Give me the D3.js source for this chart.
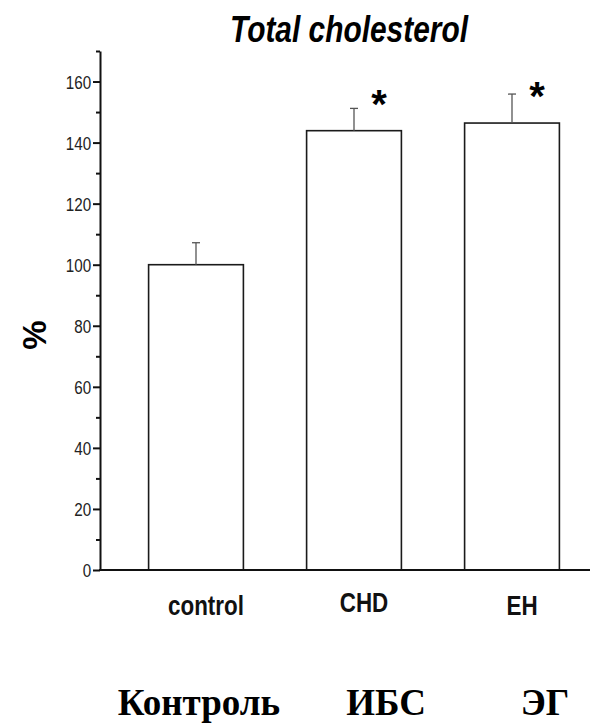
<!DOCTYPE html>
<html>
<head>
<meta charset="utf-8">
<script src="https://cdn.jsdelivr.net/npm/d3@7"></script>
<style>
  body { margin: 0; background: #fff; }
</style>
</head>
<body>
<script>
'use strict'
const categories = ["control", "CHD", "EH"];
const values = [100, 143.9, 146.4];
const errors = [7.2, 7.3, 9.5];
const significant = [false, true, true];
const yTicks = [0, 20, 40, 60, 80, 100, 120, 140, 160];
const yMinorTicks = [10, 30, 50, 70, 90, 110, 130, 150, 170];
const ruLabels = ["Контроль", "ИБС", "ЭГ"];

const width = 590;
const height = 723;

const svg = d3.select("body")
    .append("svg")
    .attr("width", width)
    .attr("height", height);

const x = d3.scaleBand()
    .domain(categories)
    .range([117, 591])
    .paddingInner(0.4)
    .paddingOuter(0.2);

const y = d3.scaleLinear()
    .domain([0, 170])
    .range([570, 51]);

// bars
svg.selectAll("rect.bar")
    .data(categories)
    .enter()
    .append("rect")
    .attr("class", "bar")
    .attr("x", d => x(d))
    .attr("y", (d, i) => y(values[i]))
    .attr("width", x.bandwidth())
    .attr("height", (d, i) => y(0) - y(values[i]))
    .attr("fill", "#fff")
    .attr("stroke", "#1a1a1a")
    .attr("stroke-width", 1.6);

// error bars (upper half only)
const err = svg.selectAll("g.err")
    .data(categories)
    .enter()
    .append("g")
    .attr("class", "err")
    .attr("stroke", "#555")
    .attr("stroke-width", 1.3);
err.append("line")
    .attr("x1", d => x(d) + x.bandwidth() / 2)
    .attr("x2", d => x(d) + x.bandwidth() / 2)
    .attr("y1", (d, i) => y(values[i]))
    .attr("y2", (d, i) => y(values[i] + errors[i]));
err.append("line")
    .attr("x1", d => x(d) + x.bandwidth() / 2 - 4)
    .attr("x2", d => x(d) + x.bandwidth() / 2 + 4)
    .attr("y1", (d, i) => y(values[i] + errors[i]))
    .attr("y2", (d, i) => y(values[i] + errors[i]));

// significance stars
svg.selectAll("text.star")
    .data(categories.filter((d, i) => significant[i]))
    .enter()
    .append("text")
    .attr("class", "star")
    .attr("x", d => x(d) + x.bandwidth() / 2 + 25)
    .attr("y", d => y(values[categories.indexOf(d)]) - 13)
    .attr("text-anchor", "middle")
    .style("font-family", "Liberation Sans, Arial, sans-serif")
    .style("font-weight", "bold")
    .style("font-size", "40px")
    .attr("fill", "#000")
    .text("*");

// y axis
const yAxis = svg.append("g")
    .attr("transform", "translate(100,0)")
    .call(d3.axisLeft(y).tickValues(yTicks).tickSize(7).tickSizeOuter(0).tickPadding(4));
yAxis.select(".domain").attr("stroke-width", 2).attr("stroke", "#111");
yAxis.selectAll(".tick line").attr("stroke-width", 2).attr("stroke", "#111");
yAxis.selectAll(".tick text")
    .style("font-family", "Liberation Sans, Arial, sans-serif")
    .style("font-size", "19px")
    .attr("fill", "#222")
    .attr("dy", "0.34em")
    .attr("transform", "scale(0.8,1)");

const yMinor = svg.append("g")
    .attr("transform", "translate(100,0)")
    .call(d3.axisLeft(y).tickValues(yMinorTicks).tickSize(4).tickFormat(""));
yMinor.select(".domain").remove();
yMinor.selectAll(".tick line").attr("stroke-width", 2).attr("stroke", "#111");

// x axis baseline
svg.append("line")
    .attr("x1", 99)
    .attr("x2", 590)
    .attr("y1", y(0))
    .attr("y2", y(0))
    .attr("stroke", "#111")
    .attr("stroke-width", 2);

// x category labels
svg.selectAll("text.xlab")
    .data(categories)
    .enter()
    .append("text")
    .attr("class", "xlab")
    .attr("transform", (d, i) => "translate(" + (x(d) + x.bandwidth() / 2 + 10) + "," + (i === 1 ? 612 : 615) + ") scale(0.8,1)")
    .attr("text-anchor", "middle")
    .style("font-family", "Liberation Sans, Arial, sans-serif")
    .style("font-weight", "bold")
    .style("font-size", "28px")
    .attr("fill", "#111")
    .text(d => d);

// title
svg.append("text")
    .attr("x", 349)
    .attr("y", 42)
    .attr("text-anchor", "middle")
    .style("font-family", "Liberation Sans, Arial, sans-serif")
    .style("font-weight", "bold")
    .style("font-style", "italic")
    .style("font-size", "37px")
    .attr("textLength", 238)
    .attr("lengthAdjust", "spacingAndGlyphs")
    .attr("fill", "#000")
    .text("Total cholesterol");

// y axis title
svg.append("text")
    .attr("transform", "translate(46,335) rotate(-90)")
    .attr("text-anchor", "middle")
    .style("font-family", "Liberation Sans, Arial, sans-serif")
    .style("font-weight", "bold")
    .style("font-size", "33px")
    .attr("fill", "#000")
    .text("%");

// russian labels
const ruX = [199, 386, 545];
svg.selectAll("text.ru")
    .data(ruLabels)
    .enter()
    .append("text")
    .attr("class", "ru")
    .attr("x", (d, i) => ruX[i])
    .attr("y", 715)
    .attr("text-anchor", "middle")
    .style("font-family", "Liberation Serif, Times New Roman, serif")
    .style("font-weight", "bold")
    .style("font-size", "37px")
    .attr("fill", "#000")
    .text(d => d);
</script>
</body>
</html>
